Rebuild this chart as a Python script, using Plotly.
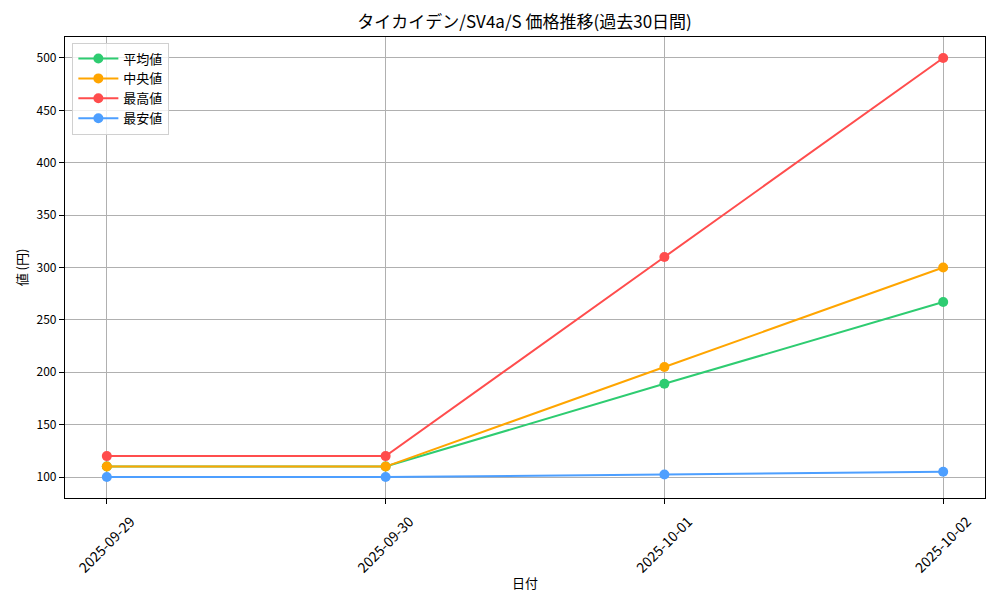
import plotly.graph_objects as go

# 日付と各統計値(円)
dates = ["2025-09-29", "2025-09-30", "2025-10-01", "2025-10-02"]
avg_price = [110, 110, 189, 267]
median_price = [110, 110, 205, 300]
max_price = [120, 120, 310, 500]
min_price = [100, 100, 102.5, 105]

series_names = ["平均値", "中央値", "最高値", "最安値"]
colors = ["#2ecc71", "#ffa500", "#ff4d4d", "#4d9fff"]

FONT = "Noto Sans CJK JP"

fig = go.Figure()
for name, vals, col in zip(series_names, [avg_price, median_price, max_price, min_price], colors):
    fig.add_trace(go.Scatter(
        x=dates, y=vals, name=name, mode="lines+markers",
        line=dict(color=col, width=2),
        marker=dict(color=col, size=10),
    ))

# ページ本体の余白(8px)を考慮してサイズを決める
fig.update_layout(
    width=984, height=584,
    margin=dict(l=57, r=7, t=29, b=94),
    paper_bgcolor="white", plot_bgcolor="white",
    font=dict(family=FONT, size=12, color="black"),
    title=dict(text="タイカイデン/SV4a/S 価格推移(過去30日間)", x=0.525, xanchor="center",
               y=0.976, yanchor="middle", font=dict(size=17)),
    legend=dict(x=0.008, y=0.988, xanchor="left", yanchor="top",
                bgcolor="rgba(255,255,255,0.8)", bordercolor="#d0d0d0", borderwidth=1,
                font=dict(size=13), tracegroupgap=0, itemwidth=40),
    showlegend=True,
)
fig.update_xaxes(
    type="category", range=[-0.15, 3.15], automargin=False,
    showgrid=True, gridcolor="#b0b0b0", gridwidth=1,
    showline=True, linecolor="black", linewidth=1.2, mirror=True,
    ticks="outside", ticklen=5, tickcolor="black",
    tickangle=-45, ticklabelshift=24, ticklabelstandoff=4,
    tickfont=dict(size=14),
    title=dict(text="日付", font=dict(size=13), standoff=41),
    zeroline=False,
)
fig.update_yaxes(
    range=[80, 520], tickvals=[100, 150, 200, 250, 300, 350, 400, 450, 500],
    automargin=False,
    showgrid=True, gridcolor="#b0b0b0", gridwidth=1,
    showline=True, linecolor="black", linewidth=1.2, mirror=True,
    ticks="outside", ticklen=5, tickcolor="black",
    title=dict(text="値 (円)", font=dict(size=13), standoff=5),
    zeroline=False,
)

fig.write_html("out.html")
